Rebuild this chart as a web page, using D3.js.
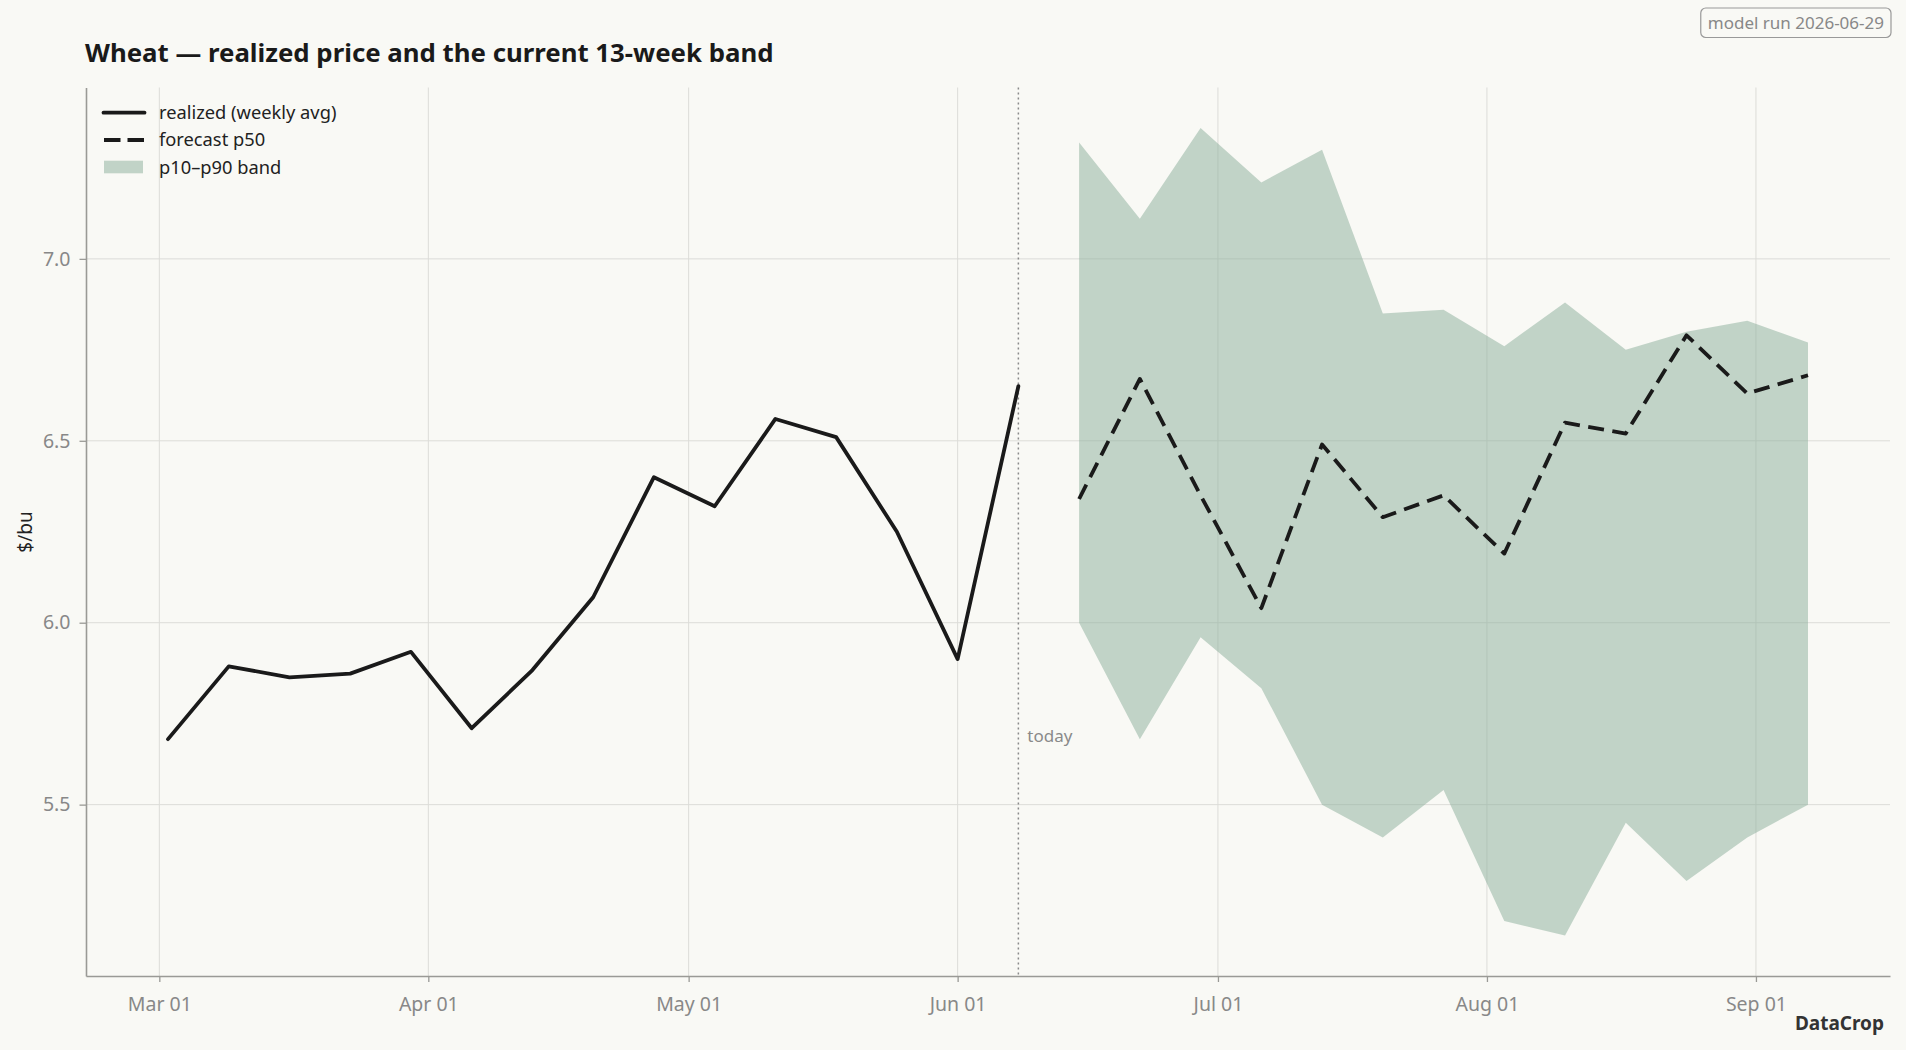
<!DOCTYPE html>
<html><head><meta charset="utf-8">
<script src="https://cdn.jsdelivr.net/npm/d3@7"></script>
<style>
html,body{margin:0;padding:0;background:#f9f9f5;}
svg{display:block;font-family:"Noto Sans",sans-serif;}
</style></head><body>
<svg id="chart" width="1906" height="1050"></svg>
<script>
// ---- data ----
const realizedWeeks = ["2026-03-02","2026-03-09","2026-03-16","2026-03-23","2026-03-30","2026-04-06","2026-04-13","2026-04-20","2026-04-27","2026-05-04","2026-05-11","2026-05-18","2026-05-25","2026-06-01","2026-06-08"];
const realizedPrice = [5.68, 5.88, 5.85, 5.86, 5.92, 5.71, 5.87, 6.07, 6.40, 6.32, 6.56, 6.51, 6.25, 5.90, 6.65];
const forecastWeeks = ["2026-06-15","2026-06-22","2026-06-29","2026-07-06","2026-07-13","2026-07-20","2026-07-27","2026-08-03","2026-08-10","2026-08-17","2026-08-24","2026-08-31","2026-09-07"];
const forecastP50 = [6.34, 6.67, 6.35, 6.04, 6.49, 6.29, 6.35, 6.19, 6.55, 6.52, 6.79, 6.63, 6.68];
const forecastP10 = [6.00, 5.68, 5.96, 5.82, 5.50, 5.41, 5.54, 5.18, 5.14, 5.45, 5.29, 5.41, 5.50];
const forecastP90 = [7.32, 7.11, 7.36, 7.21, 7.30, 6.85, 6.86, 6.76, 6.88, 6.75, 6.80, 6.83, 6.77];
const todayDate = "2026-06-08";
const monthTicks = ["2026-03-01","2026-04-01","2026-05-01","2026-06-01","2026-07-01","2026-08-01","2026-09-01"];
const yTicks = [5.5, 6.0, 6.5, 7.0];
const titleText = "Wheat — realized price and the current 13-week band";
const yLabelText = "$/bu";
const legendLabels = ["realized (weekly avg)", "forecast p50", "p10–p90 band"];
const todayLabel = "today";
const modelRunText = "model run 2026-06-29";
const brandText = "DataCrop";

// ---- setup ----
const parse = d3.utcParse("%Y-%m-%d");
const W = 1906, H = 1050;
const L = 86, R = 1890, T = 87.5, B = 976;
const LW = 3.8;
const svg = d3.select("#chart");
svg.append("rect").attr("width", W).attr("height", H).attr("fill", "#f9f9f5");

const realized = realizedWeeks.map((d, i) => ({date: parse(d), v: realizedPrice[i]}));
const forecast = forecastWeeks.map((d, i) => ({date: parse(d), p50: forecastP50[i], p10: forecastP10[i], p90: forecastP90[i]}));

const dExt = d3.extent([...realized.map(d => d.date), ...forecast.map(d => d.date)]);
const dPad = (dExt[1] - dExt[0]) * 0.05;
const x = d3.scaleUtc().domain([new Date(+dExt[0] - dPad), new Date(+dExt[1] + dPad)]).range([L, R]);

const vExt = d3.extent([...realizedPrice, ...forecastP10, ...forecastP90]);
const vPad = (vExt[1] - vExt[0]) * 0.05;
const y = d3.scaleLinear().domain([vExt[0] - vPad, vExt[1] + vPad]).range([B, T]);

// grid
const grid = svg.append("g");
grid.selectAll(".vg").data(monthTicks.map(parse)).join("line")
  .attr("x1", d => x(d)).attr("x2", d => x(d)).attr("y1", T).attr("y2", B)
  .attr("stroke", "#dcdcd8").attr("stroke-width", 1);
grid.selectAll(".hg").data(yTicks).join("line")
  .attr("x1", L).attr("x2", R).attr("y1", d => y(d)).attr("y2", d => y(d))
  .attr("stroke", "#dcdcd8").attr("stroke-width", 1);

// band
const area = d3.area().x(d => x(d.date)).y0(d => y(d.p10)).y1(d => y(d.p90));
svg.append("path").datum(forecast).attr("d", area)
  .attr("fill", "rgb(138,174,154)").attr("fill-opacity", 0.5);

// today line
const td = parse(todayDate);
svg.append("line").attr("x1", x(td)).attr("x2", x(td)).attr("y1", T).attr("y2", B)
  .attr("stroke", "#8a8a8a").attr("stroke-width", 1.5).attr("stroke-dasharray", "2,3");
svg.append("text").attr("x", x(td) + 9).attr("y", 742).text(todayLabel)
  .attr("font-size", 17).attr("fill", "#8a8a8a");

// lines
const lineR = d3.line().x(d => x(d.date)).y(d => y(d.v));
svg.append("path").datum(realized).attr("d", lineR)
  .attr("fill", "none").attr("stroke", "#1a1a1a").attr("stroke-width", LW)
  .attr("stroke-linejoin", "round").attr("stroke-linecap", "round");
const lineF = d3.line().x(d => x(d.date)).y(d => y(d.p50));
svg.append("path").datum(forecast).attr("d", lineF)
  .attr("fill", "none").attr("stroke", "#1a1a1a").attr("stroke-width", LW)
  .attr("stroke-dasharray", "16,8.5").attr("stroke-linejoin", "round");

// axes
const xAxis = svg.append("g").attr("transform", `translate(0,${B})`)
  .call(d3.axisBottom(x).tickValues(monthTicks.map(parse)).tickFormat(d3.utcFormat("%b %d"))
    .tickSize(6).tickSizeOuter(0).tickPadding(15));
const yAxis = svg.append("g").attr("transform", `translate(${L},0)`)
  .call(d3.axisLeft(y).tickValues(yTicks).tickFormat(d3.format(".1f"))
    .tickSize(6.5).tickSizeOuter(0).tickPadding(9));
[xAxis, yAxis].forEach(g => {
  g.select(".domain").attr("stroke", "#9a9a96").attr("stroke-width", 1.6);
  g.selectAll(".tick line").attr("stroke", "#9a9a96").attr("stroke-width", 1.3);
  g.selectAll(".tick text").attr("fill", "#888").attr("font-size", 19.5)
    .attr("font-family", "'Noto Sans', sans-serif");
});

// y label
svg.append("text").attr("transform", `translate(25,532) rotate(-90)`)
  .attr("text-anchor", "middle").attr("dy", "0.35em").attr("font-size", 19)
  .attr("fill", "#222").text(yLabelText);

// title
svg.append("text").attr("x", 85).attr("y", 62).attr("font-size", 25.8).attr("font-weight", "bold")
  .attr("fill", "#1a1a1a").text(titleText);

// legend
const lg = svg.append("g");
lg.append("line").attr("x1", 103.5).attr("x2", 144.5).attr("y1", 112.7).attr("y2", 112.7)
  .attr("stroke", "#1a1a1a").attr("stroke-width", LW).attr("stroke-linecap", "round");
lg.append("line").attr("x1", 104).attr("x2", 144).attr("y1", 140).attr("y2", 140)
  .attr("stroke", "#1a1a1a").attr("stroke-width", LW).attr("stroke-dasharray", "16.5,7");
lg.append("rect").attr("x", 104).attr("y", 160.7).attr("width", 39).attr("height", 12.6)
  .attr("fill", "rgb(138,174,154)").attr("fill-opacity", 0.5);
[112.7, 140, 167.5].forEach((yy, i) => {
  lg.append("text").attr("x", 159).attr("y", yy).attr("dy", "0.35em").attr("font-size", 18.3)
    .attr("fill", "#222").text(legendLabels[i]);
});

// model run box
const mr = svg.append("g");
const mrText = mr.append("text").attr("x", 1884).attr("y", 28.5).attr("text-anchor", "end")
  .attr("font-size", 17).attr("fill", "#888").text(modelRunText);
const bb = mrText.node().getBBox();
mr.insert("rect", "text").attr("x", bb.x - 7).attr("y", 8).attr("width", bb.width + 14).attr("height", 29.5)
  .attr("rx", 5).attr("fill", "#f9f9f5").attr("stroke", "#999").attr("stroke-width", 1.2);

// brand
svg.append("text").attr("x", 1884).attr("y", 1030).attr("text-anchor", "end")
  .attr("font-size", 19).attr("font-weight", "bold").attr("fill", "#333").text(brandText);
</script>
</body></html>
